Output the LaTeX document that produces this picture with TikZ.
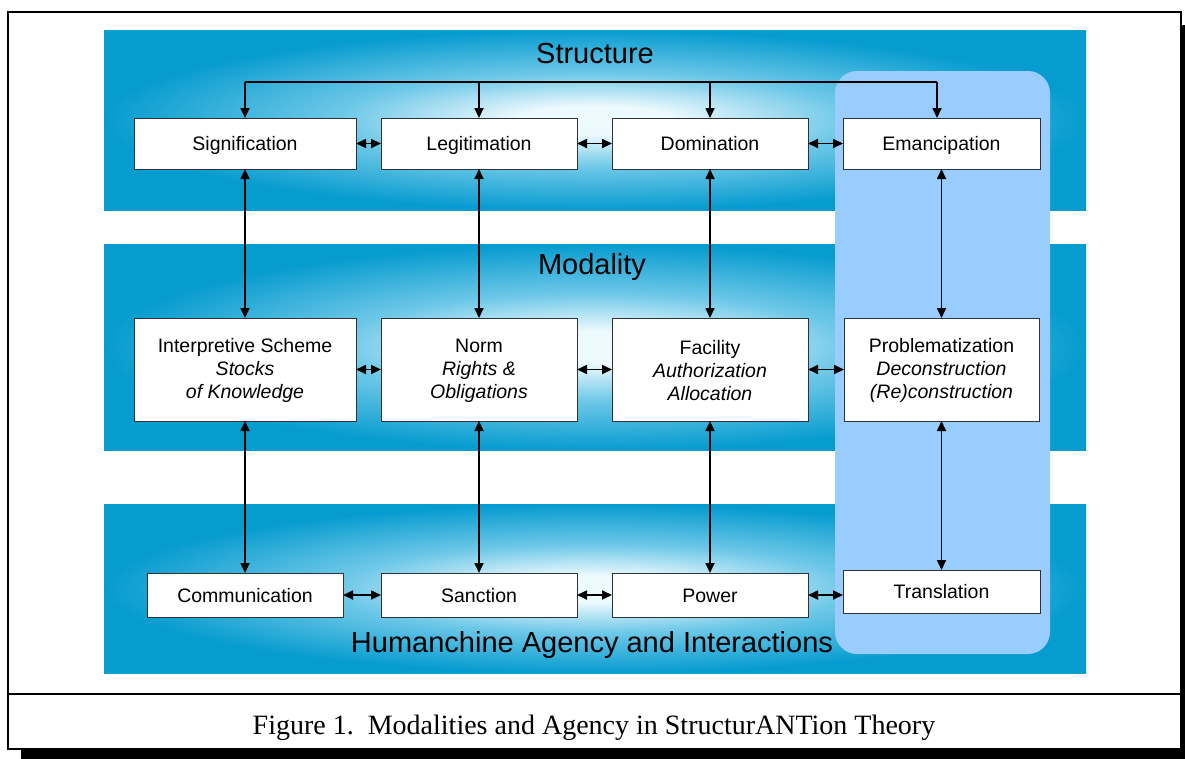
\documentclass[tikz,border=0pt]{standalone}
\usepackage{fontspec}
\setmainfont{Liberation Serif}
\newfontfamily\arialf{Liberation Sans}
\usetikzlibrary{arrows.meta,calc}
\definecolor{bandout}{RGB}{6,156,207}
\definecolor{bandmid}{RGB}{110,200,232}
\definecolor{bandin}{RGB}{236,249,253}
\definecolor{emblue}{RGB}{153,204,255}
\definecolor{boxline}{RGB}{50,50,50}
\pgfdeclareradialshading{bandglow}{\pgfpoint{0bp}{0bp}}{color(0bp)=(bandin); color(4bp)=(bandin); color(13bp)=(bandmid); color(25bp)=(bandout); color(50bp)=(bandout)}
\tikzset{
  band/.style={shading=bandglow},
  box/.style={draw=boxline, line width=0.9pt, fill=white, inner sep=0pt, outer sep=0pt, align=center,
     font=\arialf\fontsize{19.5}{23}\selectfont},
  onebox/.style={box, text height=18pt, text depth=4pt},
  title/.style={font=\arialf\fontsize{29}{33}\selectfont, inner sep=0pt},
  tip/.style={-{Triangle[length=10pt,width=9pt]}},
  link/.style={line width=1.7pt, {Triangle[length=10pt,width=9pt]}-{Triangle[length=10pt,width=9pt]}},
  conn/.style={line width=1.7pt}
}
\begin{document}
\begin{tikzpicture}[x=1pt,y=-1pt]
\useasboundingbox (0,0) rectangle (1185,758);
% frame with shadow
\fill[black] (21,25) rectangle (1200,770);
\filldraw[fill=white, draw=black, line width=2pt] (8,12) rectangle (1181,749);
\draw[line width=2pt] (8,694) -- (1181,694);
\node[font=\fontsize{28}{32}\selectfont, inner sep=0pt] (cap) at (594,728) {Figure 1.\ \ Modalities and Agency in StructurANTion Theory};
% bands
\shade[band] (104,30) rectangle (1086,210);
\shade[band] (104,244) rectangle (1086,450);
\shade[band] (104,504) rectangle (1086,673);
% emancipation column
\fill[emblue, rounded corners=22pt] (835,71) rectangle (1050,654);
% titles
\node[title] (tstruct) at (595,54) {Structure};
\node[title] (tmod) at (592,267) {Modality};
\node[title] (tagency) at (592,645) {Humanchine Agency and Interactions};
% row 1
\node[onebox, minimum width=222pt, minimum height=51pt] (sig) at (245,143.5) {Signification};
\node[onebox, minimum width=196pt, minimum height=51pt] (leg) at (479,143.5) {Legitimation};
\node[onebox, minimum width=196pt, minimum height=51pt] (dom) at (710,143.5) {Domination};
\node[onebox, minimum width=197pt, minimum height=51pt] (em) at (941.5,143.5) {Emancipation};
% row 2
\node[box, minimum width=222pt, minimum height=103pt] (isch) at (245,369.5) {\rule{0pt}{16pt}Interpretive Scheme\\\itshape Stocks\\\itshape of Knowledge};
\node[box, minimum width=196pt, minimum height=103pt] (norm) at (479,369.5) {\rule{0pt}{16pt}Norm\\\itshape Rights \&\\\itshape Obligations};
\node[box, minimum width=196pt, minimum height=103pt] (fac) at (710,369.5) {\rule{0pt}{16pt}Facility\\\itshape Authorization\\\itshape Allocation};
\node[box, minimum width=195pt, minimum height=103pt] (prob) at (941.5,369.5) {\rule{0pt}{16pt}Problematization\\\itshape Deconstruction\\\itshape (Re)construction};
% row 3
\node[onebox, minimum width=196pt, minimum height=44pt] (comm) at (245,595) {Communication};
\node[onebox, minimum width=196pt, minimum height=44pt] (sanc) at (479,595) {Sanction};
\node[onebox, minimum width=196pt, minimum height=44pt] (pow) at (710,595) {Power};
\node[onebox, minimum width=197pt, minimum height=43pt] (trans) at (941.5,591.5) {Translation};
% top tree
\coordinate (tl) at (245,82);
\coordinate (tr) at (937,82);
\draw[conn] (tl) -- (tr);
\draw[conn, tip] (tl) -- (sig.north);
\draw[conn, tip] (tr) -- (tr |- em.north);
\draw[conn, tip] (leg.north |- tl) -- (leg.north);
\draw[conn, tip] (dom.north |- tl) -- (dom.north);
% horizontal links
\draw[link] (sig) -- (leg);
\draw[link] (leg) -- (dom);
\draw[link] (dom) -- (em);
\draw[link] (isch) -- (norm);
\draw[link] (norm) -- (fac);
\draw[link] (fac) -- (prob);
\draw[link] (comm) -- (sanc);
\draw[link] (sanc) -- (pow);
\draw[link] (pow.east) -- (pow.east -| trans.west);
% vertical links
\draw[link] (sig) -- (isch);
\draw[link] (leg) -- (norm);
\draw[link] (dom) -- (fac);
\draw[link] (em) -- (prob);
\draw[link] (isch) -- (comm);
\draw[link] (norm) -- (sanc);
\draw[link] (fac) -- (pow);
\draw[link] (prob) -- (trans);
\end{tikzpicture}
\end{document}
